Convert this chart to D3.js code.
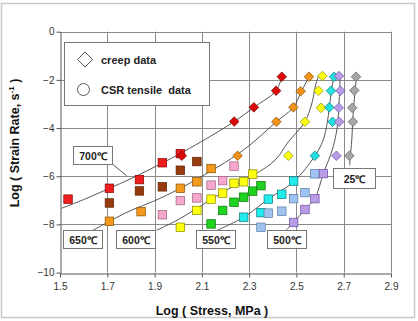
<!DOCTYPE html>
<html><head><meta charset="utf-8">
<script src="https://cdn.jsdelivr.net/npm/d3@7/dist/d3.min.js"></script>
<style>
html,body{margin:0;padding:0;background:#fff;}
svg text{font-family:Arial,"Liberation Sans",sans-serif;}
</style></head>
<body><svg id="c" width="418" height="321"></svg>
<script>
// ---- tick labels ----
const xTicks = [1.5, 1.7, 1.9, 2.1, 2.3, 2.5, 2.7, 2.9];
const yTicks = [0, -2, -4, -6, -8, -10];

// ---- CSR tensile data (squares) [log stress, log strain rate] ----
const csr700 = [[1.534,-6.95],[1.709,-6.50],[1.836,-6.14],[1.933,-5.44],[2.009,-5.06]];
const csr675 = [[1.709,-7.11],[1.836,-6.61],[1.933,-6.44],[2.009,-5.75],[2.079,-5.39]];
const csr650 = [[1.709,-7.87],[1.843,-7.47],[2.009,-6.50],[2.079,-6.23],[2.139,-5.68]];
const csr625 = [[1.933,-7.60],[2.009,-7.01],[2.079,-6.90],[2.139,-6.37],[2.188,-6.18],[2.236,-5.58]];
const csr600 = [[2.009,-8.12],[2.079,-7.42],[2.139,-6.95],[2.188,-6.70],[2.236,-6.29],[2.277,-6.23],[2.315,-5.91]];
const csr575 = [[2.139,-7.98],[2.188,-7.42],[2.236,-7.08],[2.277,-6.87],[2.315,-6.62],[2.350,-6.39]];
const csr550 = [[2.277,-7.70],[2.350,-7.51],[2.381,-6.95],[2.438,-6.75],[2.488,-6.20]];
const csr525 = [[2.350,-8.12],[2.381,-7.53],[2.438,-7.45],[2.488,-6.93],[2.536,-6.68],[2.578,-5.90]];
const csr500 = [[2.488,-7.92],[2.536,-7.38],[2.578,-6.93],[2.614,-5.89]];

// ---- creep data (diamonds) ----
const creep700 = [[2.438,-1.87],[2.414,-2.45],[2.320,-3.14],[2.237,-3.73],[2.015,-5.15]];
const creep650 = [[2.553,-1.87],[2.518,-2.47],[2.487,-3.14],[2.415,-3.74],[2.251,-5.15]];
const creep600 = [[2.610,-1.84],[2.593,-2.45],[2.604,-3.16],[2.536,-3.74],[2.466,-5.15]];
const creep550 = [[2.659,-1.87],[2.646,-2.45],[2.639,-3.14],[2.653,-3.74],[2.578,-5.15]];
const creep500 = [[2.680,-1.84],[2.686,-2.45],[2.679,-3.16],[2.681,-3.74],[2.669,-5.15]];
const creep25  = [[2.752,-1.87],[2.745,-2.44],[2.736,-3.16],[2.739,-3.74],[2.724,-5.15]];

// ---- fitted curves ----
const fit700 = [[1.507,-7.33],[1.60,-6.97],[1.709,-6.50],[1.80,-6.10],[1.933,-5.45],[2.00,-5.10],[2.10,-4.55],[2.237,-3.73],[2.320,-3.14],[2.414,-2.45],[2.438,-1.87]];
const fit650 = [[1.640,-8.24],[1.709,-7.87],[1.80,-7.42],[1.90,-7.02],[2.00,-6.55],[2.10,-6.00],[2.20,-5.42],[2.30,-4.73],[2.415,-3.74],[2.487,-3.14],[2.520,-2.50],[2.553,-1.87]];
const fit600 = [[1.909,-8.24],[2.00,-7.80],[2.10,-7.20],[2.20,-6.60],[2.320,-5.95],[2.410,-5.33],[2.466,-4.57],[2.536,-3.74],[2.567,-2.91],[2.581,-2.21],[2.595,-1.80]];
const fit550 = [[2.166,-8.24],[2.277,-7.70],[2.381,-6.95],[2.490,-6.21],[2.578,-5.16],[2.613,-4.50],[2.630,-3.80],[2.639,-3.16],[2.648,-2.45],[2.659,-1.84]];
const fit500 = [[2.456,-8.24],[2.488,-7.92],[2.536,-7.38],[2.578,-6.92],[2.614,-5.88],[2.645,-5.10],[2.665,-4.40],[2.675,-3.74],[2.680,-3.00],[2.683,-2.40],[2.685,-1.84]];
const fit25  = [[2.725,-5.55],[2.728,-5.16],[2.734,-4.50],[2.738,-3.74],[2.742,-3.16],[2.748,-2.45],[2.755,-1.84]];

// ---- temperature labels ----
const tempLabels = ["700\u2103","650\u2103","600\u2103","550\u2103","500\u2103","25\u2103"];

// ---------------- drawing ----------------
const svg = d3.select("#c");
const x = d3.scaleLinear().domain([1.5, 2.9]).range([60, 391]);
const y = d3.scaleLinear().domain([-10, 0]).range([272.6, 31.7]);

// outer frame
svg.append("rect").attr("x",1.5).attr("y",3.5).attr("width",413).attr("height",314)
  .attr("fill","none").attr("stroke","#c8c8c8").attr("stroke-width",1.5);

// grid
const grid = svg.append("g").attr("stroke","#8a8a8a").attr("stroke-width",1);
grid.selectAll("line.v").data(xTicks.slice(1)).enter().append("line")
  .attr("x1",d=>Math.round(x(d))+0.5).attr("x2",d=>Math.round(x(d))+0.5)
  .attr("y1",y(0)).attr("y2",y(-10));
grid.selectAll("line.h").data(yTicks.slice(0,-1)).enter().append("line")
  .attr("y1",d=>Math.round(y(d))+0.5).attr("y2",d=>Math.round(y(d))+0.5)
  .attr("x1",x(1.5)).attr("x2",x(2.9));

// axes
const xAxis = d3.axisBottom(x).tickValues(xTicks).tickFormat(d3.format(".1f")).tickSize(4).tickSizeOuter(0);
const gx = svg.append("g").attr("transform",`translate(0,${Math.round(y(-10))+0.5})`).call(xAxis);
gx.select(".domain").attr("stroke","#555");
gx.selectAll(".tick line").attr("stroke","#555");
gx.selectAll("text").attr("font-size","10px").attr("fill","#333").attr("dy","0.95em");

const yAxis = d3.axisLeft(y).tickValues(yTicks).tickFormat(d3.format("d")).tickSize(4).tickSizeOuter(0);
const gy = svg.append("g").attr("transform",`translate(${Math.round(x(1.5))+0.5},0)`).call(yAxis);
gy.select(".domain").attr("stroke","#555");
gy.selectAll(".tick line").attr("stroke","#555");
gy.selectAll("text").attr("font-size","10px").attr("fill","#333").attr("x",-6);

// titles
svg.append("text").attr("x",212).attr("y",315).attr("text-anchor","middle")
  .attr("font-size","12.5px").attr("font-weight","bold").attr("fill","#111")
  .text("Log ( Stress, MPa )");
const yt = svg.append("text").attr("transform","translate(19,143) rotate(-90)")
  .attr("text-anchor","middle").attr("font-size","12.5px").attr("font-weight","bold").attr("fill","#111");
yt.append("tspan").text("Log  ( Strain Rate,  s");
yt.append("tspan").attr("dy","-5").attr("font-size","8px").text("-1");
yt.append("tspan").attr("dy","5").text(" )");

// fitted curves
const line = d3.line().x(d=>x(d[0])).y(d=>y(d[1])).curve(d3.curveCatmullRom.alpha(0.5));
[fit700,fit650,fit600,fit550,fit500,fit25].forEach(f=>{
  svg.append("path").attr("d",line(f)).attr("fill","none").attr("stroke","#444").attr("stroke-width",0.9);
});

// squares
const sqSeries = [
  {d:csr700, fill:"#ee1c1c", stroke:"#8a0000"},
  {d:csr675, fill:"#973a0c", stroke:"#5a2000"},
  {d:csr650, fill:"#f39a1c", stroke:"#8a5000"},
  {d:csr625, fill:"#f7a6cc", stroke:"#9a6080"},
  {d:csr600, fill:"#ffff10", stroke:"#8a8a00"},
  {d:csr575, fill:"#1ed41e", stroke:"#0a700a"},
  {d:csr550, fill:"#22ecec", stroke:"#0a7a7a"},
  {d:csr525, fill:"#9fc3f0", stroke:"#5a7aa0"},
  {d:csr500, fill:"#b99be6", stroke:"#6a50a0"}
];
const sq = 8.5;
sqSeries.forEach(s=>{
  svg.append("g").selectAll("rect").data(s.d).enter().append("rect")
    .attr("x",d=>x(d[0])-sq/2).attr("y",d=>y(d[1])-sq/2).attr("width",sq).attr("height",sq)
    .attr("fill",s.fill).attr("stroke",s.stroke).attr("stroke-width",0.7);
});

// diamonds
const dmSeries = [
  {d:creep700, fill:"#dd0a0a", stroke:"#7a0000"},
  {d:creep650, fill:"#f0921a", stroke:"#8a5000"},
  {d:creep600, fill:"#ffff10", stroke:"#8a8a00"},
  {d:creep550, fill:"#22e0e0", stroke:"#0a7a7a"},
  {d:creep500, fill:"#b99be6", stroke:"#6a50a0"},
  {d:creep25,  fill:"#a6a6a6", stroke:"#606060"}
];
const dm = 4.8;
dmSeries.forEach(s=>{
  svg.append("g").selectAll("path").data(s.d).enter().append("path")
    .attr("d",d=>{const cx=x(d[0]), cy=y(d[1]); return `M${cx},${cy-dm}L${cx+dm},${cy}L${cx},${cy+dm}L${cx-dm},${cy}Z`;})
    .attr("fill",s.fill).attr("stroke",s.stroke).attr("stroke-width",0.7);
});

// temperature label boxes (positions in data space)
const boxes = [
  {t:tempLabels[0], x0:1.556, y0:-4.75, lx:[1.721,1.782], ly:[-5.49,-5.98]},
  {t:tempLabels[1], x0:1.511, y0:-8.24},
  {t:tempLabels[2], x0:1.738, y0:-8.24},
  {t:tempLabels[3], x0:2.076, y0:-8.24},
  {t:tempLabels[4], x0:2.376, y0:-8.24},
  {t:tempLabels[5], x0:2.654, y0:-5.65}
];
boxes.forEach((b,i)=>{
  const bx = x(b.x0), by = y(b.y0);
  const w = (i===5)?42:39, h = (i===5)?20:18;
  if (b.lx) svg.append("line").attr("x1",x(b.lx[0])).attr("y1",y(b.ly[0])).attr("x2",x(b.lx[1])).attr("y2",y(b.ly[1]))
      .attr("stroke","#444").attr("stroke-width",0.9);
  svg.append("rect").attr("x",Math.round(bx)+0.5).attr("y",Math.round(by)+0.5).attr("width",w).attr("height",h)
    .attr("fill","#fff").attr("stroke","#777").attr("stroke-width",1);
  svg.append("text").attr("x",Math.round(bx)+w/2+0.5).attr("y",Math.round(by)+h/2+4.5)
    .attr("text-anchor","middle").attr("font-size","10.5px").attr("font-weight","bold").attr("fill","#222")
    .text(b.t);
});

// legend
const lg = svg.append("g");
lg.append("rect").attr("x",64.5).attr("y",42.5).attr("width",145).attr("height",63)
  .attr("fill","#fff").attr("stroke","#777").attr("stroke-width",1);
lg.append("path").attr("d","M85,52L92.5,59.5L85,67L77.5,59.5Z").attr("fill","#fff").attr("stroke","#444").attr("stroke-width",0.9);
lg.append("circle").attr("cx",83.5).attr("cy",89.5).attr("r",6).attr("fill","#fff").attr("stroke","#444").attr("stroke-width",0.9);
lg.append("text").attr("x",101).attr("y",63.5).attr("font-size","11px").attr("font-weight","bold").attr("fill","#222").text("creep data");
lg.append("text").attr("x",101).attr("y",93.5).attr("font-size","11px").attr("font-weight","bold").attr("fill","#222")
  .attr("xml:space","preserve").style("white-space","pre").text("CSR tensile  data");
</script></body></html>
